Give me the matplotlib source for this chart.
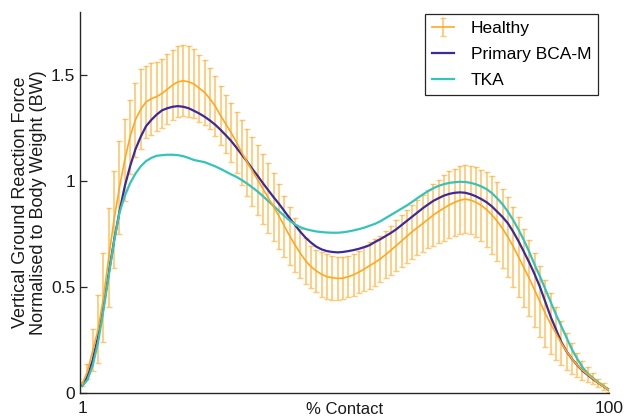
import numpy as np
import matplotlib
matplotlib.use('Agg')
import matplotlib.pyplot as plt

plt.rcParams['font.family'] = ['Liberation Sans', 'DejaVu Sans']

# % contact, 1..100
contact = list(range(1, 101))

healthy = [0.04, 0.10, 0.20, 0.30, 0.45, 0.64, 0.82, 0.97, 1.10, 1.21,
           1.29, 1.34, 1.375, 1.39, 1.40, 1.415, 1.435, 1.455, 1.47, 1.475,
           1.47, 1.46, 1.44, 1.42, 1.39, 1.355, 1.31, 1.27, 1.229, 1.183,
           1.135, 1.09, 1.047, 1.005, 0.962, 0.92, 0.877, 0.833, 0.787, 0.74,
           0.698, 0.658, 0.623, 0.595, 0.575, 0.559, 0.548, 0.543, 0.54, 0.541,
           0.548, 0.557, 0.57, 0.584, 0.60, 0.615, 0.632, 0.652, 0.673, 0.695,
           0.717, 0.739, 0.761, 0.78, 0.80, 0.82, 0.84, 0.857, 0.873, 0.888,
           0.90, 0.91, 0.915, 0.91, 0.90, 0.885, 0.865, 0.84, 0.81, 0.775,
           0.735, 0.69, 0.64, 0.59, 0.54, 0.485, 0.43, 0.375, 0.325, 0.28,
           0.235, 0.195, 0.16, 0.13, 0.105, 0.085, 0.065, 0.045, 0.028, 0.012]

healthy_sd = [0.01, 0.035, 0.10, 0.16, 0.21, 0.235, 0.23, 0.22, 0.195, 0.175,
              0.175, 0.19, 0.17, 0.17, 0.165, 0.165, 0.165, 0.165, 0.168, 0.168,
              0.168, 0.163, 0.158, 0.154, 0.145, 0.142, 0.14, 0.138, 0.14, 0.144,
              0.152, 0.159, 0.164, 0.166, 0.166, 0.164, 0.162, 0.154, 0.144, 0.138,
              0.13, 0.118, 0.109, 0.10, 0.10, 0.105, 0.106, 0.103, 0.10, 0.10,
              0.098, 0.099, 0.10, 0.103, 0.11, 0.113, 0.11, 0.11, 0.115, 0.12,
              0.122, 0.125, 0.128, 0.13, 0.135, 0.138, 0.145, 0.15, 0.155, 0.158,
              0.158, 0.16, 0.162, 0.162, 0.166, 0.17, 0.178, 0.183, 0.186, 0.186,
              0.188, 0.19, 0.19, 0.185, 0.18, 0.175, 0.168, 0.158, 0.145, 0.125,
              0.105, 0.088, 0.072, 0.058, 0.046, 0.036, 0.027, 0.02, 0.015, 0.01]

primary = [0.035, 0.075, 0.155, 0.265, 0.405, 0.565, 0.72, 0.855, 0.975, 1.07,
           1.15, 1.21, 1.26, 1.29, 1.315, 1.335, 1.345, 1.352, 1.355, 1.352,
           1.345, 1.333, 1.32, 1.305, 1.287, 1.267, 1.243, 1.217, 1.19, 1.158,
           1.125, 1.092, 1.057, 1.024, 0.989, 0.956, 0.923, 0.892, 0.858, 0.824,
           0.792, 0.76, 0.732, 0.709, 0.69, 0.677, 0.669, 0.665, 0.663, 0.665,
           0.669, 0.674, 0.68, 0.688, 0.697, 0.712, 0.725, 0.74, 0.755, 0.772,
           0.792, 0.812, 0.832, 0.852, 0.872, 0.89, 0.907, 0.92, 0.932, 0.94,
           0.945, 0.947, 0.945, 0.938, 0.928, 0.915, 0.90, 0.88, 0.855, 0.83,
           0.80, 0.76, 0.715, 0.665, 0.615, 0.56, 0.50, 0.43, 0.36, 0.30,
           0.24, 0.195, 0.16, 0.13, 0.103, 0.083, 0.063, 0.045, 0.028, 0.012]

tka = [0.03, 0.06, 0.13, 0.24, 0.39, 0.555, 0.715, 0.85, 0.93, 0.99,
       1.035, 1.07, 1.095, 1.11, 1.12, 1.123, 1.125, 1.125, 1.123, 1.118,
       1.11, 1.10, 1.095, 1.09, 1.08, 1.07, 1.058, 1.045, 1.032, 1.02,
       1.005, 0.988, 0.97, 0.95, 0.928, 0.905, 0.882, 0.858, 0.835, 0.813,
       0.795, 0.782, 0.773, 0.767, 0.762, 0.759, 0.757, 0.756, 0.756, 0.758,
       0.762, 0.767, 0.773, 0.78, 0.789, 0.798, 0.81, 0.825, 0.84, 0.855,
       0.87, 0.885, 0.902, 0.92, 0.937, 0.953, 0.967, 0.978, 0.986, 0.992,
       0.995, 0.997, 0.996, 0.992, 0.985, 0.975, 0.962, 0.943, 0.918, 0.89,
       0.855, 0.815, 0.77, 0.72, 0.665, 0.605, 0.55, 0.49, 0.43, 0.37,
       0.315, 0.26, 0.205, 0.16, 0.12, 0.09, 0.068, 0.048, 0.03, 0.013]

xticks = [1, 100]
yticks = [0, 0.5, 1, 1.5]
ytick_labels = ['0', '0.5', '1', '1.5']

orange = '#FFA81E'
bar_col = (1.0, 0.66, 0.12, 0.6)
purple = '#3C2A9C'
teal = '#33C4BA'

fig = plt.figure(figsize=(6.26, 4.19), dpi=100)
ax = fig.add_axes([0.127, 0.0632, 0.846, 0.908])

eb = ax.errorbar(contact, healthy, yerr=healthy_sd, color=orange, lw=1.2,
                 ecolor=bar_col, elinewidth=1.3, capsize=2.2, capthick=1.0,
                 label='Healthy')
l1, = ax.plot(contact, primary, color=purple, lw=1.6, label='Primary BCA-M')
l2, = ax.plot(contact, tka, color=teal, lw=1.6, label='TKA')

ax.set_xlim(0.5, 100)
ax.set_ylim(0, 1.8)
ax.set_xticks(xticks)
ax.set_xticklabels([str(t) for t in xticks])
ax.set_yticks(yticks)
ax.set_yticklabels(ytick_labels)

for s in ['top', 'right']:
    ax.spines[s].set_visible(False)
for s in ['left', 'bottom']:
    ax.spines[s].set_color('#262626')
    ax.spines[s].set_linewidth(1.0)

ax.tick_params(axis='both', direction='in', length=5, width=0.9,
               colors='#262626', labelsize=12.5, labelcolor='#1a1a1a')
ax.tick_params(axis='y', pad=3)
ax.tick_params(axis='x', pad=6, length=0)

ax.set_ylabel('Vertical Ground Reaction Force\nNormalised to Body Weight (BW)',
              fontsize=13, color='#1a1a1a', labelpad=2.5, linespacing=1.15)
ax.set_xlabel('% Contact', fontsize=12, color='#1a1a1a', labelpad=-10)

leg = ax.legend([eb, l1, l2], ['Healthy', 'Primary BCA-M', 'TKA'],
                loc='upper right', bbox_to_anchor=(0.979, 0.994), fontsize=12.5,
                fancybox=False, framealpha=1, edgecolor='#262626',
                borderpad=0.38, labelspacing=0.62, handlelength=1.25,
                handletextpad=1.0, borderaxespad=0.0)
leg.get_frame().set_linewidth(0.9)

fig.savefig('out.png', dpi=100)
